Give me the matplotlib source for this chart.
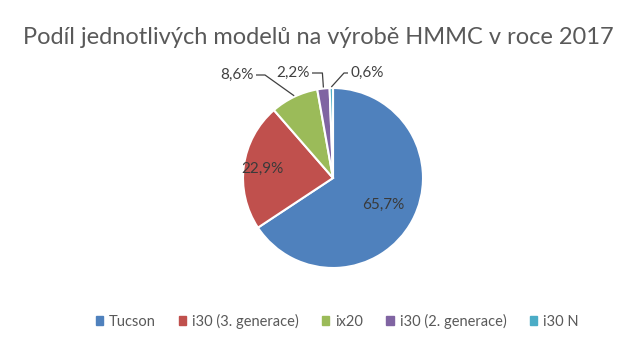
import numpy as np
import matplotlib
matplotlib.use('Agg')
from matplotlib import pyplot as plt
from matplotlib.patches import Rectangle

plt.rcParams['font.family'] = ['Lato', 'DejaVu Sans']

title = 'Podíl jednotlivých modelů na výrobě HMMC v roce 2017'
models = ['Tucson', 'i30 (3. generace)', 'ix20', 'i30 (2. generace)', 'i30 N']
shares = [65.7, 22.9, 8.6, 2.2, 0.6]
colors = ['#4F81BD', '#C0504D', '#9BBB59', '#8064A2', '#4BACC6']

W, H = 636, 353
cx, cy, R = 333, H - 178, 90

fig = plt.figure(figsize=(W / 100, H / 100), dpi=100)
ax = fig.add_axes([0, 0, 1, 1])

wedges, _ = ax.pie(shares, colors=colors, startangle=90, counterclock=False,
                   center=(cx, cy), radius=R,
                   wedgeprops=dict(edgecolor='white', linewidth=1.5))
ax.set_xlim(0, W)
ax.set_ylim(0, H)
ax.set_aspect('equal')
ax.axis('off')

fig.text(0.5, 1 - 38 / H, title, ha='center', va='center', fontsize=17, color='#595959')

def fmt(v):
    return ('%.1f%%' % v).replace('.', ',')

# inside labels
cum = np.cumsum([0] + shares)
mids = (cum[:-1] + cum[1:]) / 2 / 100 * 2 * np.pi  # clockwise from top
inner = {0: 0.64, 1: 0.79}
for i, rf in inner.items():
    a = mids[i]
    ax.text(cx + rf * R * np.sin(a), cy + rf * R * np.cos(a), fmt(shares[i]),
            ha='center', va='center', fontsize=11, color='#3a3a3a')

# outside labels with leader lines
outside = {2: (237, H - 75, 'right'), 3: (293, H - 73, 'right'), 4: (367, H - 73, 'left')}
for i, (tx, ty, side) in outside.items():
    a = mids[i]
    ex, ey = cx + R * np.sin(a), cy + R * np.cos(a)
    ax.text(tx, ty, fmt(shares[i]), ha='center', va='center', fontsize=11, color='#404040')
    if side == 'right':
        x0 = tx + 19
        x1 = x0 + 9 if i == 2 else ex - 1
    else:
        x0 = tx - 19
        x1 = x0 - 4
    ax.plot([x0, x1, ex], [ty, ty, ey + 1], color='#404040', lw=0.9, solid_capstyle='butt')

# legend
handles = [Rectangle((0, 0), 1, 1, color=c) for c in colors]
fig.legend(handles, models, loc='center', bbox_to_anchor=(337 / W, 1 - 321 / H), ncol=5,
           frameon=False, fontsize=10.5, handlelength=0.5, handleheight=0.5,
           handletextpad=0.4, columnspacing=1.6, labelcolor='#595959')

fig.savefig('out.png', dpi=100)
